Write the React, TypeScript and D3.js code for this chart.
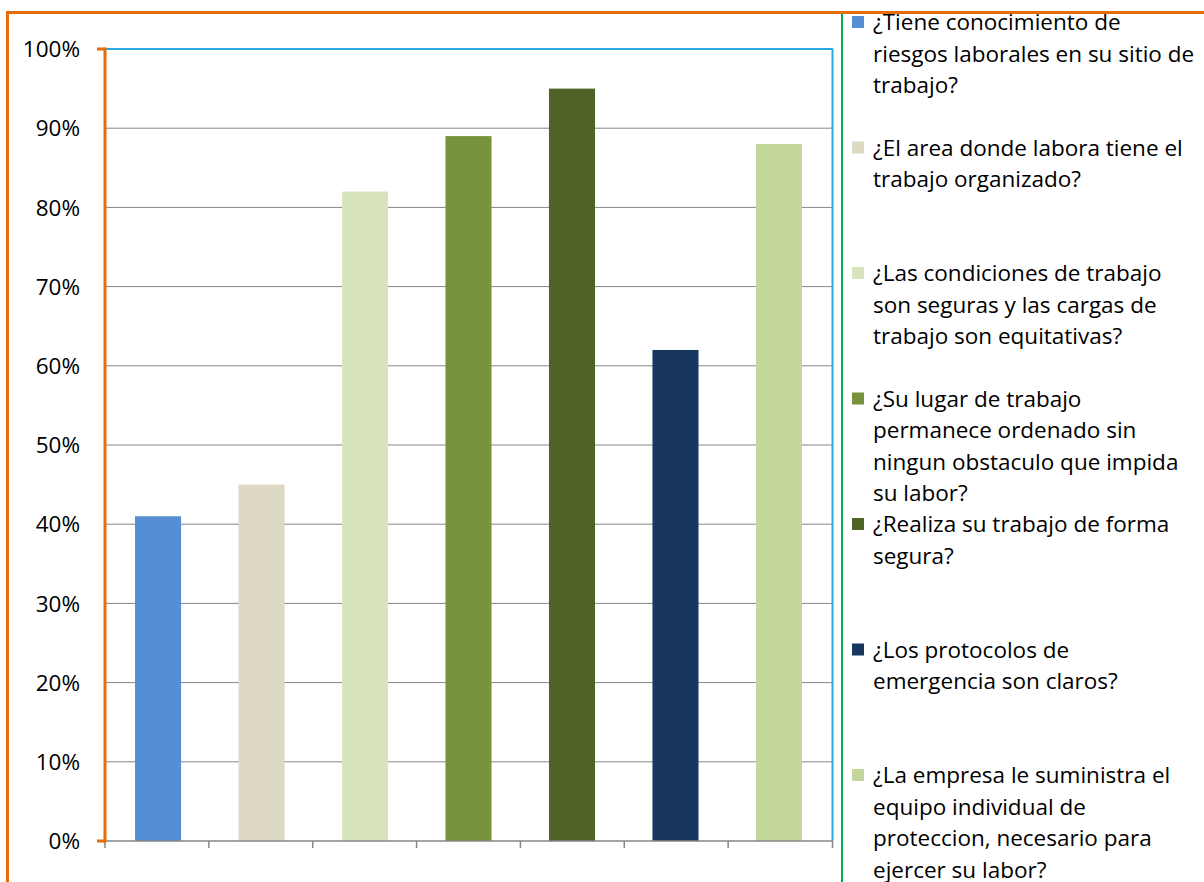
import React from "react";
import * as d3 from "d3";

const categories = ["Q1", "Q2", "Q3", "Q4", "Q5", "Q6", "Q7"];
const values = [41, 45, 82, 89, 95, 62, 88];
const colors = ["#558ED5", "#DDD9C3", "#D7E4BD", "#77933C", "#4F6228", "#17375E", "#C3D69B"];
const legendLines = [
  ["¿Tiene conocimiento de", "riesgos laborales en su sitio de", "trabajo?"],
  ["¿El area donde labora tiene el", "trabajo organizado?"],
  ["¿Las condiciones de trabajo", "son seguras y las cargas de", "trabajo son equitativas?"],
  ["¿Su lugar de trabajo", "permanece ordenado sin", "ningun obstaculo que impida", "su labor?"],
  ["¿Realiza su trabajo de forma", "segura?"],
  ["¿Los protocolos de", "emergencia son claros?"],
  ["¿La empresa le suministra el", "equipo individual de", "proteccion, necesario para", "ejercer su labor?"],
];
const yTicks = [0, 10, 20, 30, 40, 50, 60, 70, 80, 90, 100];

export default function App() {
  const W = 1204, H = 882;
  const left = 105, right = 832, top = 49, bottom = 841;
  const x = d3.scaleBand<string>().domain(categories).range([left, right]).paddingInner(0.555).paddingOuter(0.29);
  const xb = d3.scaleBand<string>().domain(categories).range([left, right]);
  const y = d3.scaleLinear().domain([0, 100]).range([bottom, top]);
  const font = "'Open Sans', sans-serif";
  const legX = 852, legTextX = 873, legTop = 22, itemGap = 125.5, lineH = 31.5;
  return (
    <div style={{ position: "absolute", left: 0, top: 0 }}>
      <svg width={W} height={H} style={{ display: "block", background: "#fff" }}>
        {yTicks.filter(t => t > 0 && t < 100).map(t => (
          <line key={t} x1={left} x2={right} y1={y(t)} y2={y(t)} stroke="#868686" strokeWidth={1} />
        ))}
        <line x1={left} x2={right + 1} y1={y(100)} y2={y(100)} stroke="#29ABE2" strokeWidth={2} />
        <line x1={right + 0.5} x2={right + 0.5} y1={y(100)} y2={bottom} stroke="#29ABE2" strokeWidth={2} />
        {categories.map((c, i) => (
          <rect key={c} x={x(c)} y={y(values[i])} width={x.bandwidth()} height={bottom - y(values[i])} fill={colors[i]} />
        ))}
        <line x1={left} x2={right + 1} y1={bottom} y2={bottom} stroke="#868686" strokeWidth={1.5} />
        {categories.map(c => (
          <line key={c} x1={xb(c)!} x2={xb(c)!} y1={bottom} y2={bottom + 7} stroke="#868686" strokeWidth={1.5} />
        ))}
        <line x1={right + 0.5} x2={right + 0.5} y1={bottom} y2={bottom + 7} stroke="#868686" strokeWidth={1.5} />
        <line x1={left} x2={left} y1={top - 1.5} y2={bottom + 1.5} stroke="#E46C0A" strokeWidth={3} />
        <line x1={97} x2={left} y1={top} y2={top} stroke="#E46C0A" strokeWidth={3} />
        <line x1={97} x2={left} y1={bottom} y2={bottom} stroke="#E46C0A" strokeWidth={3} />
        {yTicks.map(t => (
          <text key={t} x={80} y={y(t)} dy="0.36em" textAnchor="end" fontFamily={font} fontSize={22.5} fill="#000">{t}%</text>
        ))}
        <line x1={7.5} x2={7.5} y1={11} y2={H} stroke="#E46C0A" strokeWidth={3} />
        <line x1={6} x2={W} y1={12.5} y2={12.5} stroke="#E46C0A" strokeWidth={3} />
        <line x1={842} x2={842} y1={14} y2={H} stroke="#00B050" strokeWidth={2} />
        {legendLines.map((lines, i) => {
          const y0 = legTop + i * itemGap;
          return (
            <g key={i}>
              <rect x={legX} y={y0 - 6} width={12} height={12} fill={colors[i]} />
              {lines.map((ln, j) => (
                <text key={j} x={legTextX} y={y0 + j * lineH} dy="0.36em" fontFamily={font} fontSize={22.5} fill="#000">{ln}</text>
              ))}
            </g>
          );
        })}
      </svg>
    </div>
  );
}
